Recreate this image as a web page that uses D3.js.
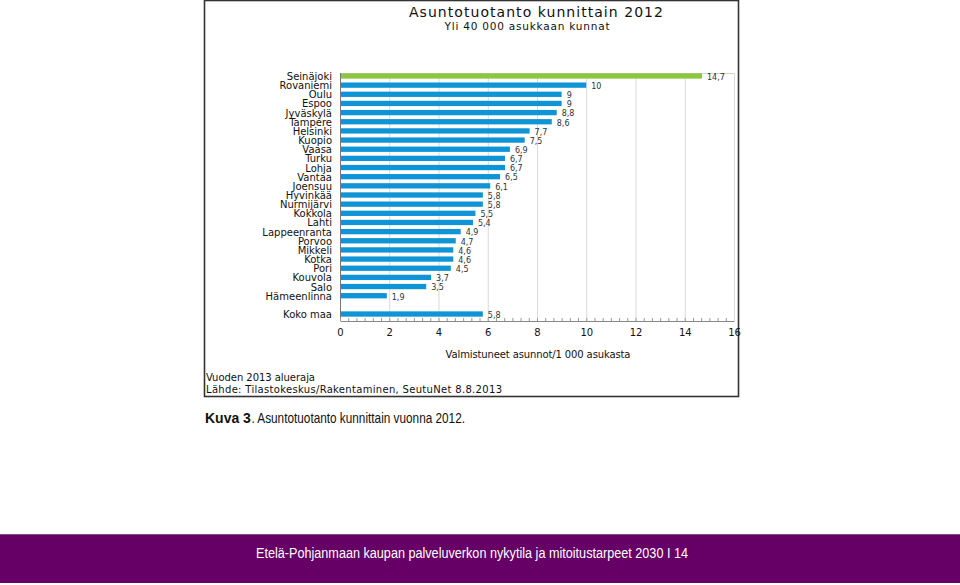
<!DOCTYPE html>
<html><head><meta charset="utf-8">
<script src="https://cdn.jsdelivr.net/npm/d3@7"></script>
<style>
html,body{margin:0;padding:0;background:#fff;}
svg{display:block;}
</style></head>
<body>
<svg id="c" width="960" height="585"></svg>
<script>
const categories = ["Seinäjoki","Rovaniemi","Oulu","Espoo","Jyväskylä","Tampere","Helsinki","Kuopio","Vaasa","Turku","Lohja","Vantaa","Joensuu","Hyvinkää","Nurmijärvi","Kokkola","Lahti","Lappeenranta","Porvoo","Mikkeli","Kotka","Pori","Kouvola","Salo","Hämeenlinna"];
const values = [14.7,10,9,9,8.8,8.6,7.7,7.5,6.9,6.7,6.7,6.5,6.1,5.8,5.8,5.5,5.4,4.9,4.7,4.6,4.6,4.5,3.7,3.5,1.9];
const totalLabel = "Koko maa";
const totalValue = 5.8;
const xTicks = [0,2,4,6,8,10,12,14,16];
const title = "Asuntotuotanto kunnittain 2012";
const subtitle = "Yli 40 000 asukkaan kunnat";
const xTitle = "Valmistuneet asunnot/1 000 asukasta";
const notes = ["Vuoden 2013 alueraja","Lähde: Tilastokeskus/Rakentaminen, SeutuNet 8.8.2013"];
const captionBold = "Kuva 3";
const captionRest = ". Asuntotuotanto kunnittain vuonna 2012.";
const footer = "Etelä-Pohjanmaan kaupan palveluverkon nykytila ja mitoitustarpeet 2030 I 14";

const rows = categories.map((c,i)=>({name:c,value:values[i],highlight:i===0}));
rows.push({name:"",value:null});
rows.push({name:totalLabel,value:totalValue});

const svg = d3.select("#c");
const font = "DejaVu Sans, Verdana, sans-serif";

// outer frame
svg.append("rect").attr("x",204.5).attr("y",0.5).attr("width",534).attr("height",396)
  .attr("fill","none").attr("stroke","#333").attr("stroke-width",1.6);

const x = d3.scaleLinear().domain([0,16]).range([340,734]);
const y = d3.scaleBand().domain(rows.map((d,i)=>i)).range([71.4,318.6]).paddingInner(0.42).paddingOuter(0.21);

const plotTop = 73, plotBottom = 321;

// plot frame & gridlines
svg.append("g").selectAll("line").data(xTicks.slice(1)).join("line")
  .attr("x1",d=>x(d)+0.5).attr("x2",d=>x(d)+0.5).attr("y1",plotTop).attr("y2",plotBottom)
  .attr("stroke","#d9d9d9").attr("stroke-width",1);
svg.append("line").attr("x1",x(0)).attr("x2",x(16)).attr("y1",plotTop+0.5).attr("y2",plotTop+0.5)
  .attr("stroke","#d0d0d0");

// bars
svg.append("g").selectAll("rect").data(rows.filter(d=>d.value!==null)).join("rect")
  .attr("x",x(0)).attr("y",d=>y(rows.indexOf(d)))
  .attr("width",d=>x(d.value)-x(0)).attr("height",y.bandwidth())
  .attr("fill",d=>d.highlight?"#8dc63f":"#0f95d6");

// value labels
svg.append("g").selectAll("text").data(rows.filter(d=>d.value!==null)).join("text")
  .attr("x",d=>x(d.value)+5).attr("y",d=>y(rows.indexOf(d))+y.bandwidth()/2+1)
  .attr("dy","0.35em")
  .attr("font-family",font).attr("font-size",8).attr("fill","#333")
  .text(d=>String(d.value).replace(".",","));

// left axis (category labels)
const yAxis = d3.axisLeft(y).tickSize(0).tickPadding(8).tickFormat(i=>rows[i].name);
const gy = svg.append("g").attr("transform",`translate(${x(0)},0)`).call(yAxis);
gy.select(".domain").remove();
gy.selectAll("text").attr("font-family",font).attr("font-size",10).attr("fill","#111").attr("dy","0.4em");
svg.append("line").attr("x1",x(0)+0.5).attr("x2",x(0)+0.5).attr("y1",plotTop).attr("y2",plotBottom)
  .attr("stroke","#777");

// bottom axis
const xAxis = d3.axisBottom(x).tickValues(xTicks).tickSize(0).tickPadding(8).tickFormat(d=>d);
const gx = svg.append("g").attr("transform",`translate(0,${plotBottom})`).call(xAxis);
gx.select(".domain").attr("stroke","#888");
gx.selectAll("text").attr("font-family",font).attr("font-size",10).attr("fill","#111");
// minor ticks
const minor = d3.range(0,48).map(i=>i/3);
svg.append("g").selectAll("line").data(minor).join("line")
  .attr("x1",d=>x(d)+0.5).attr("x2",d=>x(d)+0.5).attr("y1",plotBottom-3).attr("y2",plotBottom)
  .attr("stroke","#999");

// titles
svg.append("text").attr("x",536).attr("y",17).attr("text-anchor","middle")
  .attr("font-family",font).attr("font-size",14).attr("fill","#111")
  .attr("textLength",254).text(title);
svg.append("text").attr("x",527).attr("y",30).attr("text-anchor","middle")
  .attr("font-family",font).attr("font-size",10.5).attr("fill","#111")
  .attr("textLength",165).text(subtitle);
svg.append("text").attr("x",538).attr("y",358).attr("text-anchor","middle")
  .attr("font-family",font).attr("font-size",10).attr("fill","#111")
  .attr("textLength",185).text(xTitle);

// notes
svg.append("text").attr("x",206).attr("y",381).attr("font-family",font).attr("font-size",10)
  .attr("fill","#111").attr("textLength",109).text(notes[0]);
svg.append("text").attr("x",206).attr("y",393).attr("font-family",font).attr("font-size",10)
  .attr("fill","#111").attr("textLength",296).text(notes[1]);

// caption
const capFont = "Liberation Sans Narrow, Liberation Sans, sans-serif";
const bold = svg.append("text").attr("x",205).attr("y",423).attr("font-family",capFont).attr("font-size",14)
  .attr("font-weight","bold").attr("fill","#111").text(captionBold);
const bw = bold.node().getComputedTextLength();
const restX = 205 + bw + 0.5;
svg.append("text").attr("x",restX).attr("y",423).attr("font-family",capFont).attr("font-size",15)
  .attr("fill","#111")
  .attr("textLength",465-restX).attr("lengthAdjust","spacingAndGlyphs").text(captionRest);

// footer
svg.append("rect").attr("x",0).attr("y",534).attr("width",960).attr("height",49).attr("fill","#660066");
svg.append("line").attr("x1",0).attr("x2",960).attr("y1",534.5).attr("y2",534.5).attr("stroke","#8a4a8a");
svg.append("text").attr("x",472).attr("y",558).attr("text-anchor","middle")
  .attr("font-family",capFont).attr("font-size",14).attr("fill","#fff")
  .attr("textLength",432).attr("lengthAdjust","spacingAndGlyphs").text(footer);
</script>
</body></html>
